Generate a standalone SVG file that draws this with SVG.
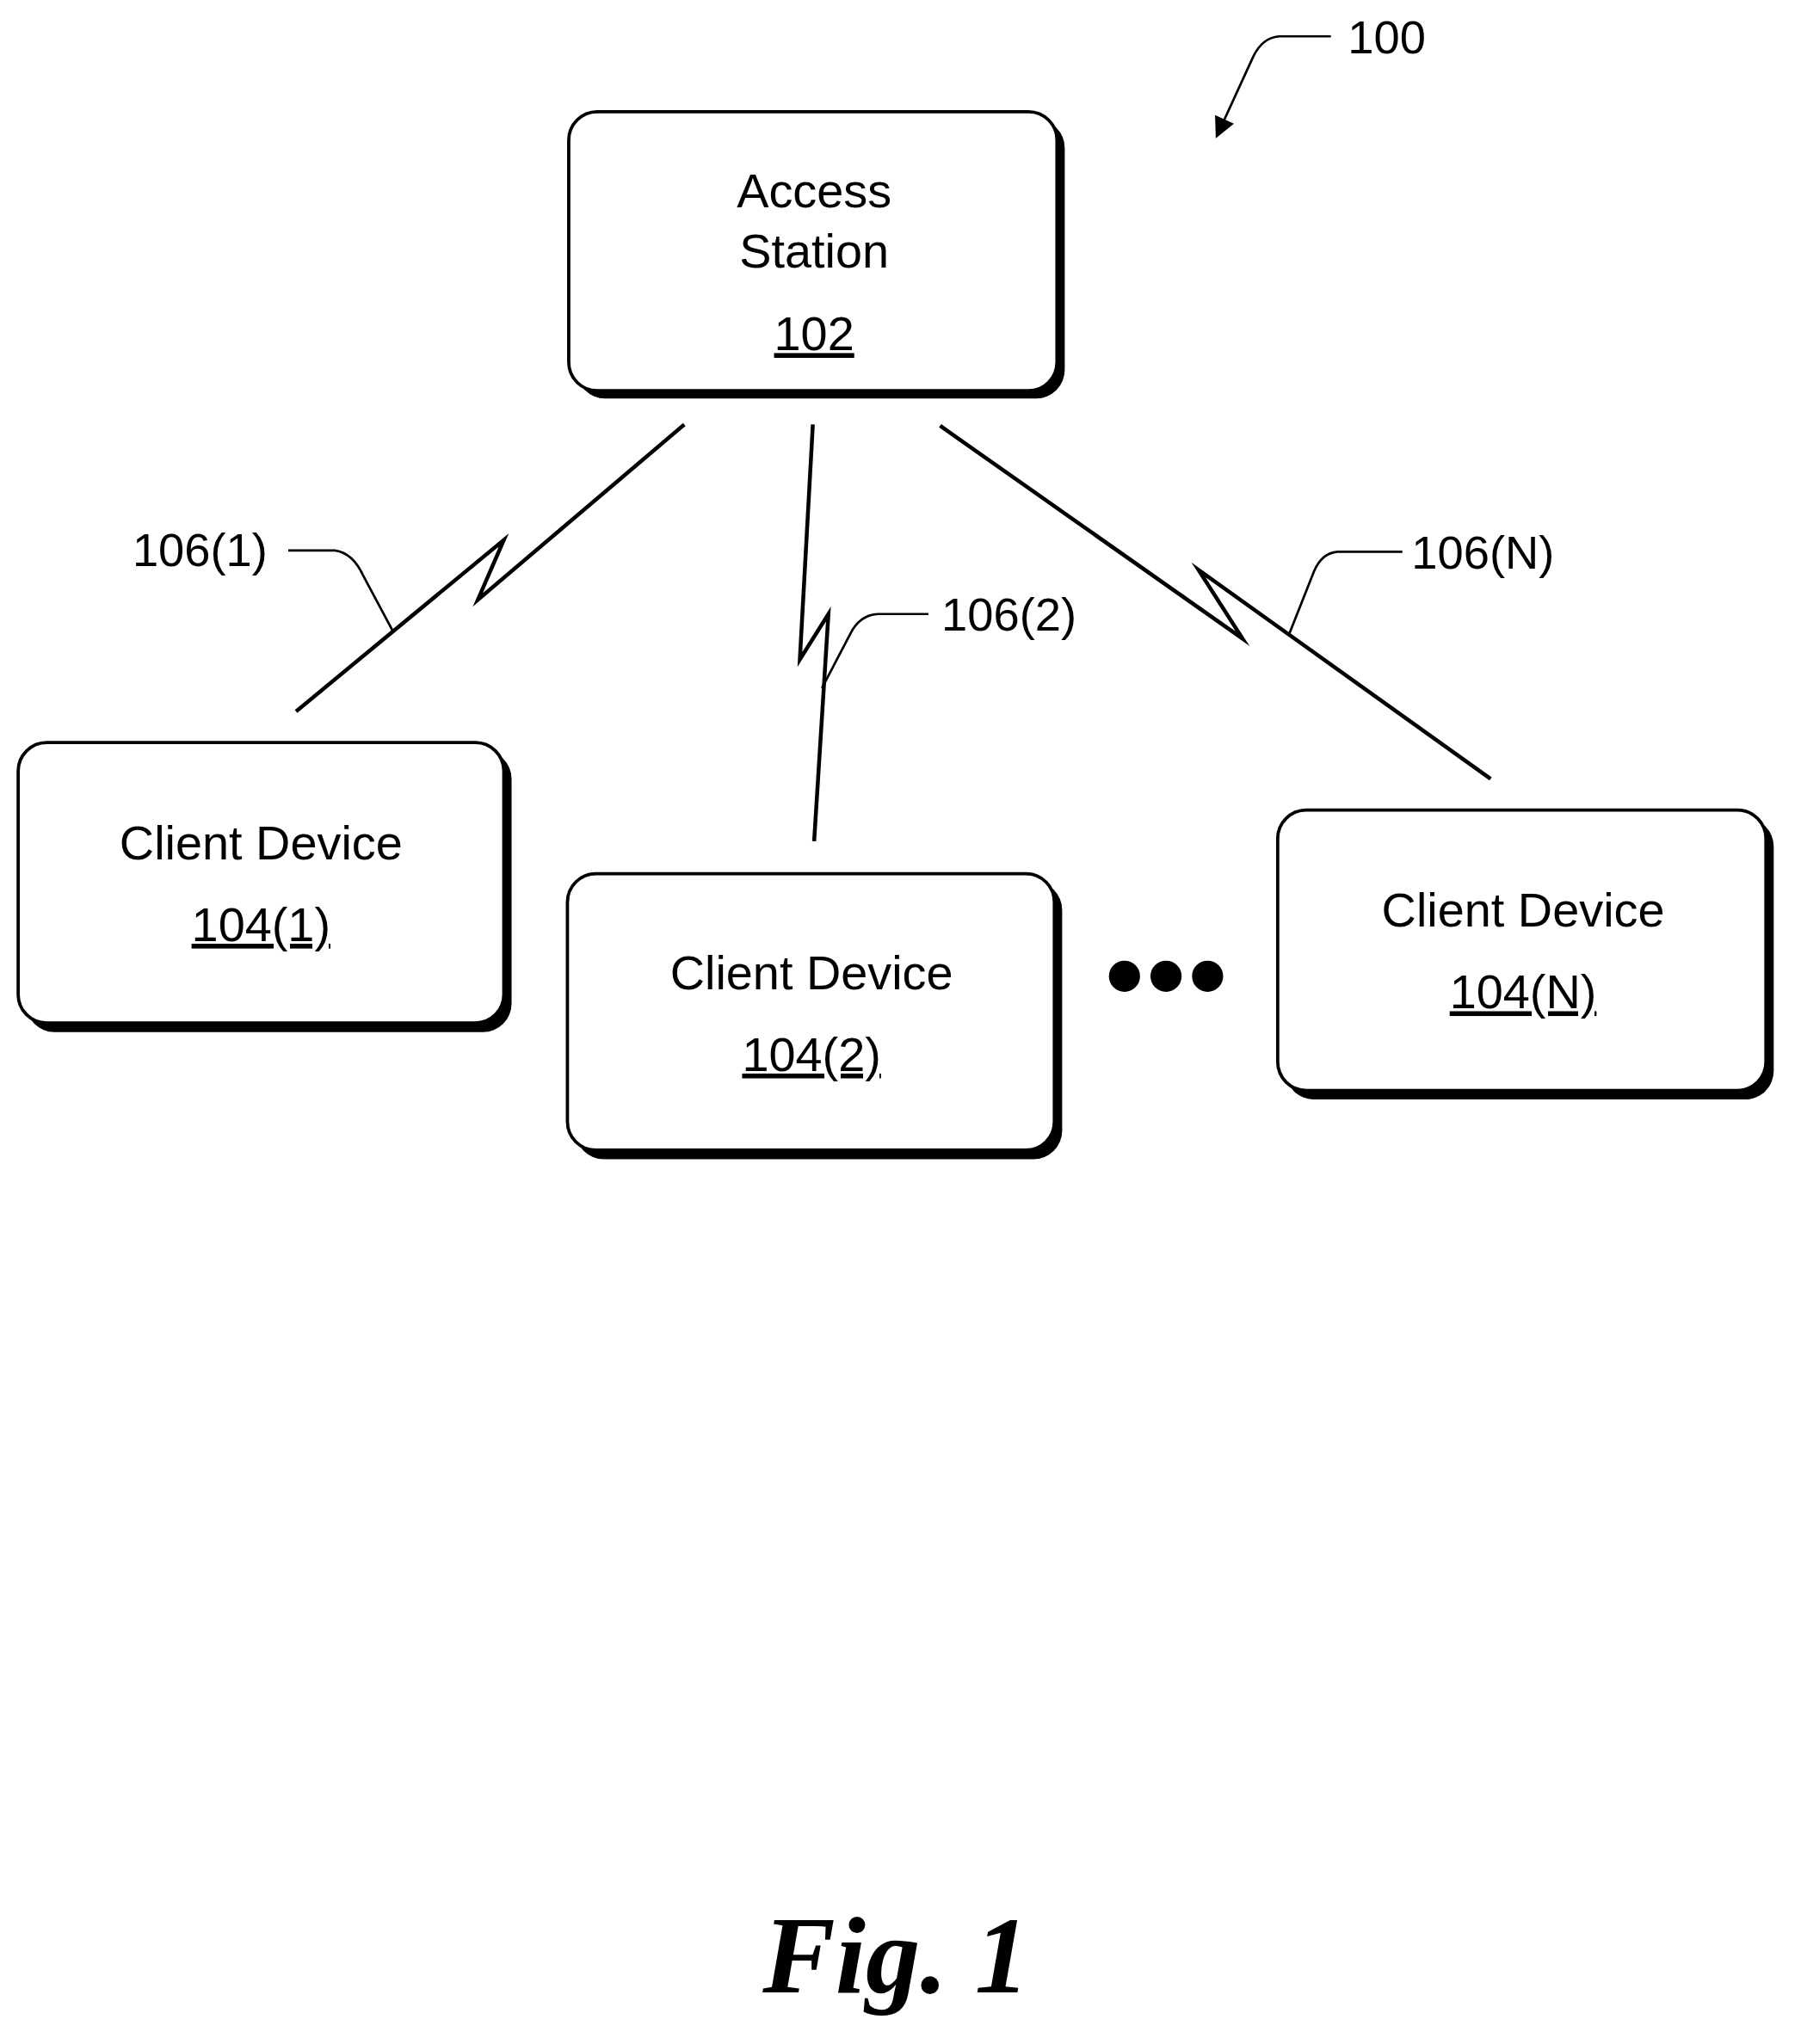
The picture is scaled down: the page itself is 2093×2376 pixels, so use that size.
<svg xmlns="http://www.w3.org/2000/svg" width="2093" height="2376" viewBox="0 0 2093 2376">
<style>
.sh{fill:#000}
.bx{fill:#fff;stroke:#000;stroke-width:2.5}
.t{font-family:"Liberation Sans",Arial,sans-serif;font-size:37px;text-anchor:middle;fill:#000}
.l{font-family:"Liberation Sans",Arial,sans-serif;font-size:36px;fill:#000}
.u{text-decoration:underline}
.ln{fill:none;stroke:#000;stroke-width:1.8}
.bolt{fill:none;stroke:#000;stroke-width:3;stroke-linejoin:miter;stroke-miterlimit:20}
</style>
<defs>
<marker id="ah" viewBox="0 0 10 10" refX="9" refY="5" markerWidth="20" markerHeight="16" orient="auto" markerUnits="userSpaceOnUse"><path d="M0,0 L10,5 L0,10 z" fill="#000"/></marker>
</defs>
<rect width="2093" height="2376" fill="#fff"/>
<g transform="scale(1.509)">
<g id="n102">
<rect class="sh" x="444" y="92" width="376" height="215" rx="22"/>
<rect class="bx" x="438" y="86" width="376" height="215" rx="22"/>
<text class="t" x="627" y="160">Access</text>
<text class="t" x="627" y="206">Station</text>
<text class="t u" x="627" y="270">102</text>
</g>
<g id="n104_1">
<rect class="sh" x="20" y="578" width="374" height="217" rx="22"/>
<rect class="bx" x="14" y="572" width="374" height="216" rx="22"/>
<text class="t" x="201" y="662">Client Device</text>
<text class="t u" x="201" y="725">104(1)</text>
</g>
<g id="n104_2">
<rect class="sh" x="443" y="679" width="375" height="214" rx="22"/>
<rect class="bx" x="437" y="673" width="375" height="213" rx="22"/>
<text class="t" x="625" y="762">Client Device</text>
<text class="t u" x="625" y="825">104(2)</text>
</g>
<g id="n104_N">
<rect class="sh" x="990" y="630" width="376" height="217" rx="22"/>
<rect class="bx" x="984" y="624" width="376" height="216" rx="22"/>
<text class="t" x="1173" y="714">Client Device</text>
<text class="t u" x="1173" y="777">104(N)</text>
</g>
<g id="dots">
<circle cx="866" cy="752" r="12"/><circle cx="898" cy="752" r="12"/><circle cx="930" cy="752" r="12"/>
</g>
<g id="connectors">
<path class="bolt" d="M527,327 L368,462 L388,416 L228,548"/>
<path class="bolt" d="M626,327 L616,508 L638,473 L627,648"/>
<path class="bolt" d="M724,328 L957,492 L923,439 L1148,600"/>
<path class="ln" d="M222,424 L258,424 Q272,426 280,444 L303,487"/>
<path class="ln" d="M715,473 L676,473 Q662,474 655,488 L633,530"/>
<path class="ln" d="M1080,425 L1030,425 Q1018,426 1012,440 L993,488"/>
<path class="ln" d="M1025,28 L985,28 Q972,29 965,44 L937,105" marker-end="url(#ah)"/>
</g>
<text class="l" x="102" y="436">106(1)</text>
<text class="l" x="725" y="486">106(2)</text>
<text class="l" x="1087" y="438">106(N)</text>
<text class="l" x="1038" y="41">100</text>
<text x="690" y="1535" font-family="'Liberation Serif',serif" font-style="italic" font-weight="bold" font-size="84" text-anchor="middle">Fig. 1</text>
</g>
</svg>
